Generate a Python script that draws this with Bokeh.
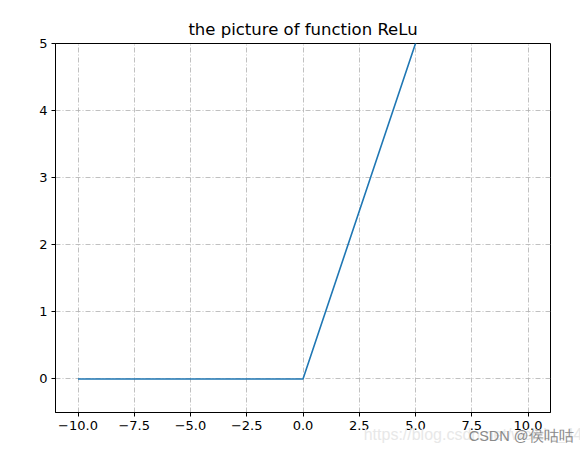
from bokeh.plotting import figure
from bokeh.models import FixedTicker, Range1d, Title
from bokeh.embed import file_html
from bokeh.resources import INLINE

# data
x_vals = [-10.0, -5.0, 0.0, 5.0, 10.0]
y_vals = [0.0, 0.0, 0.0, 5.0, 10.0]
x_ticks = [-10.0, -7.5, -5.0, -2.5, 0.0, 2.5, 5.0, 7.5, 10.0]
x_tick_labels = ["\u221210.0", "\u22127.5", "\u22125.0", "\u22122.5", "0.0", "2.5", "5.0", "7.5", "10.0"]
y_ticks = [0, 1, 2, 3, 4, 5]
y_tick_labels = ["0", "1", "2", "3", "4", "5"]
title_text = "the picture of function ReLu"
watermark_url = "https://blog.csdn.net/weixin_44"
watermark_name = "CSDN @侯咕咕"

FONT = "DejaVu Sans"
WFONT = "Liberation Sans"

p = figure(width=580, height=443, output_backend="svg", toolbar_location=None,
           x_range=Range1d(-11, 11), y_range=Range1d(-0.5, 5),
           min_border_left=55, min_border_right=30, min_border_top=43, min_border_bottom=31,
           title=title_text)
p.background_fill_color = "white"
p.border_fill_color = "white"
p.outline_line_color = "black"
p.outline_line_width = 1

p.title.align = "center"
p.title.text_font = FONT
p.title.text_font_size = "16.5px"
p.title.text_font_style = "normal"
p.title.text_color = "black"
p.title.standoff = 9

p.line(x_vals, y_vals, line_color="#1f77b4", line_width=1.6)

for ax, ticks, labels in ((p.xaxis[0], x_ticks, x_tick_labels), (p.yaxis[0], y_ticks, y_tick_labels)):
    ax.ticker = FixedTicker(ticks=ticks)
    ax.major_label_overrides = {t: l for t, l in zip(ticks, labels)}
    ax.minor_tick_line_color = None
    ax.major_tick_out = 4
    ax.major_tick_in = 0
    ax.major_tick_line_color = "black"
    ax.axis_line_color = "black"
    ax.major_label_text_font = FONT
    ax.major_label_text_font_size = "13px"
    ax.major_label_text_color = "black"
    ax.major_label_standoff = 4

p.xgrid.ticker = FixedTicker(ticks=x_ticks)
p.ygrid.ticker = FixedTicker(ticks=y_ticks)
for g in (p.xgrid[0], p.ygrid[0]):
    g.grid_line_color = "#b0b0b0"
    g.grid_line_width = 0.8
    g.grid_line_dash = "5 2 1 2"

t_url = Title(text=watermark_url, align="right", text_font=WFONT,
              text_font_size="16px", text_color="#e8e8e8", text_font_style="normal")
t_name = Title(text=watermark_name, align="right", text_font=WFONT,
               text_font_size="14.5px", text_color="#8a8a8a", text_font_style="normal")
t_url.standoff = -18
t_name.standoff = -15
t_url.offset = -32
t_name.offset = -23
p.add_layout(t_url, "below")
p.add_layout(t_name, "below")

open("out.html", "w").write(file_html(p, INLINE))
